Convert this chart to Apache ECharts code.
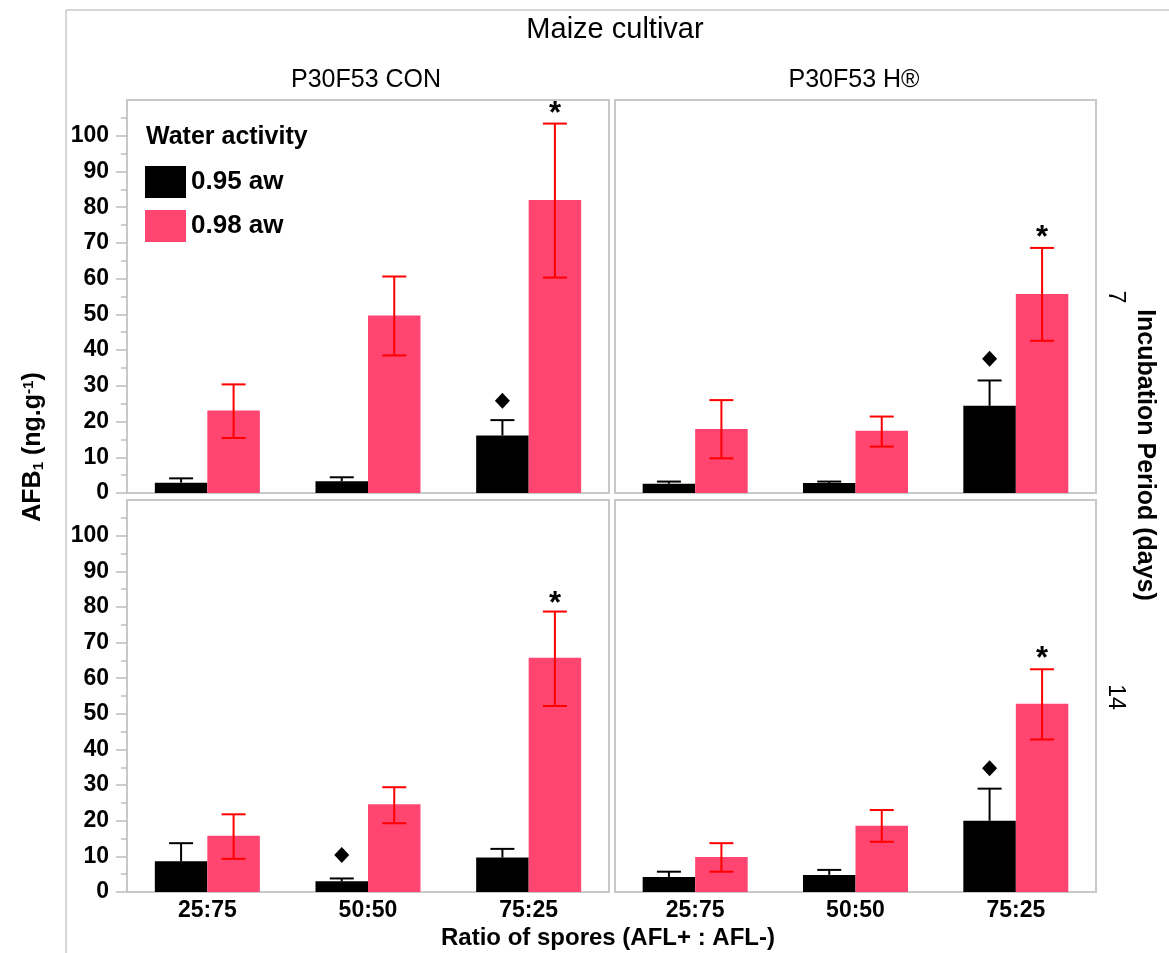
<!DOCTYPE html>
<html>
<head>
<meta charset="utf-8">
<script src="https://cdn.jsdelivr.net/npm/echarts@6/dist/echarts.min.js"></script>
<style>
html,body{margin:0;padding:0;background:#fff;}
#chart{width:1169px;height:953px;}
</style>
</head>
<body>
<div id="chart"></div>
<script>
// ---------------- DATA ----------------
const categories = ['25:75', '50:50', '75:25'];
const cultivars = ['P30F53 CON', 'P30F53 H®'];
const days = ['7', '14'];
const seriesNames = ['0.95 aw', '0.98 aw'];
// panel order: [day 7 CON, day 7 H®, day 14 CON, day 14 H®]
const aw095Mean  = [[2.9, 3.3, 16.1], [2.6, 2.8, 24.4], [8.6, 3.0, 9.7], [4.2, 4.8, 20.0]];
const aw095Upper = [[4.1, 4.4, 20.4], [3.2, 3.2, 31.5], [13.7, 3.8, 12.1], [5.7, 6.2, 29.0]];
const aw098Mean  = [[23.1, 49.7, 82.0], [17.9, 17.4, 55.7], [15.8, 24.6, 65.7], [9.8, 18.6, 52.8]];
const aw098Upper = [[30.4, 60.6, 103.4], [26.0, 21.4, 68.6], [21.8, 29.4, 78.7], [13.7, 23.0, 62.5]];
const aw098Lower = [[15.4, 38.5, 60.3], [9.7, 13.0, 42.6], [9.3, 19.3, 52.2], [5.7, 14.1, 42.8]];
// significance marks (y position of the symbol)
const diamondMarks = [[null, null, 25.8], [null, null, 37.6], [null, 10.4, null], [null, null, 34.7]];
const starMarks    = [[null, null, 107.8], [null, null, 73.1], [null, null, 82.6], [null, null, 67.3]];
const yMajorTicks = [0, 10, 20, 30, 40, 50, 60, 70, 80, 90, 100];
const yMinorTicks = [5, 15, 25, 35, 45, 55, 65, 75, 85, 95, 105];
const yMax = 110;

// ---------------- STYLE ----------------
const FONT = 'Liberation Sans, Arial, Helvetica, sans-serif';
const BLACK = '#000000';
const PINK = '#FF4570';
const RED = '#FF0000';
const BAR_W = 52.5;
const CAP = 12;
const BORDER = '#c8c8c8';

const gridPos = [
  {left: 127, top: 100, width: 482, height: 393},
  {left: 615, top: 100, width: 481, height: 393},
  {left: 127, top: 500, width: 482, height: 392},
  {left: 615, top: 500, width: 481, height: 392}
];

const chart = echarts.init(document.getElementById('chart'), null, {renderer: 'canvas'});

const grids = gridPos.map(g => Object.assign({show: true, borderColor: BORDER, borderWidth: 2, backgroundColor: 'transparent', containLabel: false}, g));

const xAxes = gridPos.map((g, i) => ({
  type: 'category', gridIndex: i, data: categories,
  axisLine: {show: false}, axisTick: {show: false},
  axisLabel: {show: i >= 2, fontFamily: FONT, fontSize: 23, fontWeight: 'bold', color: '#000', margin: 7}
}));

const yAxes = [];
for (let i = 0; i < 4; i++) {
  const isLeft = (i % 2 === 0);
  yAxes.push({
    type: 'value', gridIndex: i, min: 0, max: yMax, interval: 10,
    splitLine: {show: false}, axisLine: {show: false},
    axisTick: {show: isLeft, length: 11, lineStyle: {color: '#bdbdbd', width: 1.5}, customValues: yMajorTicks},
    axisLabel: {show: isLeft, fontFamily: FONT, fontSize: 23, fontWeight: 'bold', color: '#000', margin: 18, customValues: yMajorTicks}
  });
}
// minor tick axes for left panels
[0, 2].forEach(i => {
  yAxes.push({
    type: 'value', gridIndex: i, min: 0, max: yMax, interval: 10, position: 'left',
    splitLine: {show: false}, axisLine: {show: false}, axisLabel: {show: false},
    axisTick: {show: true, length: 6, lineStyle: {color: '#bdbdbd', width: 1.5}, customValues: yMinorTicks}
  });
});

function errRender(offsetSign, color, lowerCap) {
  return function (params, api) {
    const cat = api.value(0);
    const pHi = api.coord([cat, api.value(2)]);
    const pLo = api.coord([cat, api.value(1)]);
    const x = pHi[0] + offsetSign * BAR_W / 2;
    const st = {stroke: color, lineWidth: 2};
    const children = [
      {type: 'line', shape: {x1: x, y1: pLo[1], x2: x, y2: pHi[1]}, style: st},
      {type: 'line', shape: {x1: x - CAP, y1: pHi[1], x2: x + CAP, y2: pHi[1]}, style: st}
    ];
    if (lowerCap) children.push({type: 'line', shape: {x1: x - CAP, y1: pLo[1], x2: x + CAP, y2: pLo[1]}, style: st});
    return {type: 'group', children: children};
  };
}
function diamondRender(params, api) {
  const p = api.coord([api.value(0), api.value(1)]);
  const x = p[0] - BAR_W / 2, y = p[1];
  return {type: 'polygon', shape: {points: [[x, y - 8], [x + 7.5, y], [x, y + 8], [x - 7.5, y]]}, style: {fill: BLACK}};
}
function starRender(params, api) {
  const p = api.coord([api.value(0), api.value(1)]);
  return {type: 'text', style: {text: '*', x: p[0] + BAR_W / 2, y: p[1] + 7, textAlign: 'center', textVerticalAlign: 'middle', font: 'bold 31px ' + FONT, fill: '#000'}};
}

const series = [];
for (let i = 0; i < 4; i++) {
  series.push({name: seriesNames[0], type: 'bar', xAxisIndex: i, yAxisIndex: i, data: aw095Mean[i], barWidth: BAR_W, barGap: '0%', itemStyle: {color: BLACK}, z: 2});
  series.push({name: seriesNames[1], type: 'bar', xAxisIndex: i, yAxisIndex: i, data: aw098Mean[i], barWidth: BAR_W, barGap: '0%', itemStyle: {color: PINK}, z: 2});
  series.push({type: 'custom', xAxisIndex: i, yAxisIndex: i, renderItem: errRender(-1, BLACK, false), z: 3,
    data: categories.map((c, k) => [k, aw095Mean[i][k], aw095Upper[i][k]])});
  series.push({type: 'custom', xAxisIndex: i, yAxisIndex: i, renderItem: errRender(1, RED, true), z: 3,
    data: categories.map((c, k) => [k, aw098Lower[i][k], aw098Upper[i][k]])});
  series.push({type: 'custom', xAxisIndex: i, yAxisIndex: i, renderItem: diamondRender, z: 4,
    data: categories.map((c, k) => [k, diamondMarks[i][k]]).filter(d => d[1] != null)});
  series.push({type: 'custom', xAxisIndex: i, yAxisIndex: i, renderItem: starRender, z: 4,
    data: categories.map((c, k) => [k, starMarks[i][k]]).filter(d => d[1] != null)});
}

const txt = (t, x, y, size, weight, rot, align) => ({
  type: 'text', x: x, y: y, rotation: rot || 0,
  style: {text: t, font: (weight || 'normal') + ' ' + size + 'px ' + FONT, fill: '#000', textAlign: align || 'center', textVerticalAlign: 'middle'}
});

const option = {
  animation: false,
  backgroundColor: '#fff',
  grid: grids,
  xAxis: xAxes,
  yAxis: yAxes,
  legend: {
    data: seriesNames, orient: 'vertical', left: 145, top: 166, padding: 0,
    itemWidth: 41, itemHeight: 32, itemGap: 12, icon: 'rect',
    textStyle: {fontFamily: FONT, fontSize: 26, fontWeight: 'bold', color: '#000', padding: [0, 0, 0, 0]},
    selectedMode: false
  },
  graphic: [
    {type: 'line', shape: {x1: 66, y1: 10, x2: 1169, y2: 10}, style: {stroke: BORDER, lineWidth: 1.5}},
    {type: 'line', shape: {x1: 66, y1: 10, x2: 66, y2: 953}, style: {stroke: BORDER, lineWidth: 1.5}},
    txt('Maize cultivar', 615, 30, 29),
    txt(cultivars[0], 366, 80, 25),
    txt(cultivars[1], 854, 80, 25),
    txt('Water activity', 146, 137, 25, 'bold', 0, 'left'),
    txt('Ratio of spores (AFL+ : AFL-)', 608, 938, 24, 'bold'),
    txt(days[0], 1115, 297, 23, 'normal', -Math.PI / 2),
    txt(days[1], 1115, 697, 23, 'normal', -Math.PI / 2),
    txt('Incubation Period (days)', 1145, 455, 25, 'bold', -Math.PI / 2),
    {
      type: 'text', x: 33, y: 447, rotation: Math.PI / 2,
      style: {
        text: '{n|AFB}{s|1}{n| (ng.g}{p|-1}{n|)}',
        textAlign: 'center', textVerticalAlign: 'middle', fill: '#000',
        rich: {
          n: {fontFamily: FONT, fontSize: 25, fontWeight: 'bold', lineHeight: 32, verticalAlign: 'middle'},
          s: {fontFamily: FONT, fontSize: 15, fontWeight: 'bold', lineHeight: 32, verticalAlign: 'bottom', padding: [0, 0, 3, 0]},
          p: {fontFamily: FONT, fontSize: 15, fontWeight: 'bold', lineHeight: 32, verticalAlign: 'top', padding: [4, 0, 0, 0]}
        }
      }
    }
  ],
  series: series
};
chart.setOption(option);
</script>
</body>
</html>
